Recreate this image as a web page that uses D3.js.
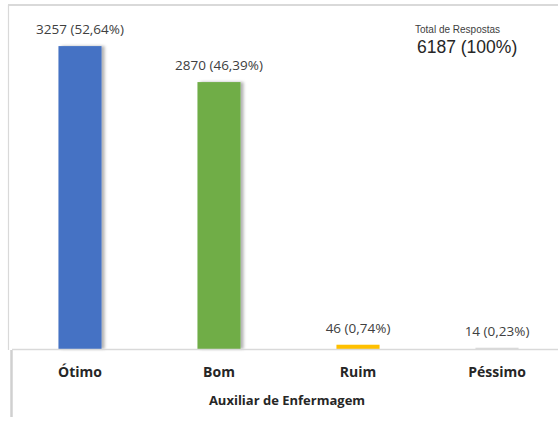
<!DOCTYPE html>
<html><head><meta charset="utf-8">
<script src="https://cdn.jsdelivr.net/npm/d3@7"></script>
<style>html,body{margin:0;padding:0;background:#fff;}svg{display:block;}</style>
</head><body>
<script>
const categories = ["Ótimo", "Bom", "Ruim", "Péssimo"];
const values = [3257, 2870, 46, 14];
const percents = ["52,64%", "46,39%", "0,74%", "0,23%"];
const colors = ["#4472C4", "#70AD47", "#FFC000", "#D9D9D9"];
const axisTitle = "Auxiliar de Enfermagem";
const totalLabel = "Total de Respostas";
const totalValue = "6187 (100%)";

const W = 558, H = 428;
const svg = d3.select("body").append("svg").attr("width", W).attr("height", H);

const defs = svg.append("defs");
const f = defs.append("filter").attr("id", "sh").attr("x", "-20%").attr("y", "-5%").attr("width", "150%").attr("height", "110%");
f.append("feDropShadow").attr("dx", 3).attr("dy", 0).attr("stdDeviation", 1.6).attr("flood-color", "#000").attr("flood-opacity", 0.3);

// frame
svg.append("line").attr("x1", 8).attr("x2", W).attr("y1", 5).attr("y2", 5).attr("stroke", "#d9d9d9").attr("stroke-width", 2);
svg.append("line").attr("x1", 8.5).attr("x2", 8.5).attr("y1", 5).attr("y2", 350).attr("stroke", "#d9d9d9").attr("stroke-width", 1.2);
svg.append("line").attr("x1", 11.5).attr("x2", 11.5).attr("y1", 350).attr("y2", 417).attr("stroke", "#d0d0d0").attr("stroke-width", 2.5);

const x = d3.scaleBand().domain(categories).range([10.5, 566.5]).paddingInner(0.69).paddingOuter(0.345);
const y = d3.scaleLinear().domain([0, 3500]).range([349, 23.5]);

const data = categories.map((c, i) => ({c, v: values[i], p: percents[i], col: colors[i]}));

svg.append("g").selectAll("rect").data(data).join("rect")
  .attr("x", d => x(d.c)).attr("width", x.bandwidth())
  .attr("y", d => y(d.v)).attr("height", d => y(0) - y(d.v))
  .attr("fill", d => d.col).attr("filter", d => d.v > 100 ? "url(#sh)" : null);

// axis line
const ax = svg.append("g").attr("transform", "translate(0,349.5)")
  .call(d3.axisBottom(x).tickSize(0).tickPadding(20));
ax.select(".domain").attr("d", "M12,0H" + W).attr("stroke", "#d9d9d9").attr("stroke-width", 1.5);
ax.selectAll(".tick text").attr("font-family", "'Open Sans', sans-serif").attr("font-size", 14)
  .attr("font-weight", "bold").attr("fill", "#262626").attr("dy", "0.5em");

svg.append("g").selectAll("text").data(data).join("text")
  .attr("x", d => x(d.c) + x.bandwidth() / 2).attr("y", d => y(d.v) - 12)
  .attr("text-anchor", "middle").attr("font-family", "'Open Sans', sans-serif").attr("font-size", 13.5)
  .attr("fill", "#404040").text(d => `${d.v} (${d.p})`);

svg.append("text").attr("x", 287).attr("y", 405).attr("text-anchor", "middle")
  .attr("font-family", "'Open Sans', sans-serif").attr("font-size", 13).attr("font-weight", "bold")
  .attr("fill", "#262626").text(axisTitle);

svg.append("text").attr("x", 415).attr("y", 33).attr("font-family", "'Liberation Sans', Arial, sans-serif")
  .attr("font-size", 10).attr("fill", "#404040").text(totalLabel);
svg.append("text").attr("x", 417).attr("y", 53).attr("font-family", "'Liberation Sans', Arial, sans-serif")
  .attr("font-size", 17.5).attr("fill", "#262626").text(totalValue);
</script>
</body></html>
